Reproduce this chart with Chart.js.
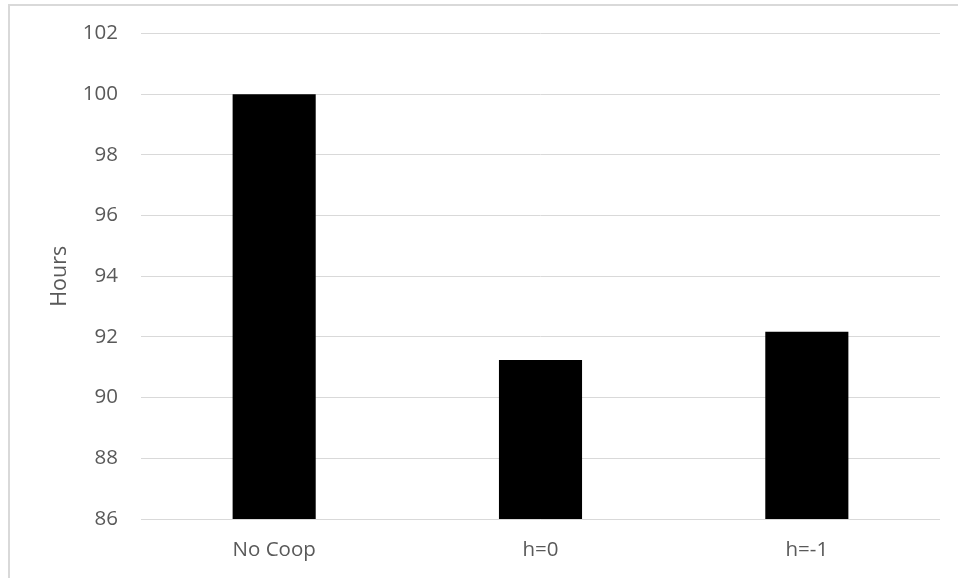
<!DOCTYPE html>
<html>
<head>
<meta charset="utf-8">
<script src="https://cdn.jsdelivr.net/npm/chart.js@4/dist/chart.umd.min.js"></script>
<style>
  body { margin: 0; background: #fff; }
  #wrap { position: relative; width: 958px; height: 578px; }
  #frame { position: absolute; left: 8px; top: 4px; right: -10px; bottom: -10px;
           border-left: 2px solid #d9d9d9; border-top: 2px solid #d9d9d9; }
  canvas { position: absolute; left: 0; top: 0; }
</style>
</head>
<body>
<div id="wrap">
  <div id="frame"></div>
  <canvas id="barChart" width="958" height="578"></canvas>
</div>
<script>
// data
var categories = ["No Coop", "h=0", "h=-1"];
var hours = [100, 91.24, 92.17];
var yTicks = [86, 88, 90, 92, 94, 96, 98, 100, 102];

var textColor = '#595959';
var gridColor = '#d9d9d9';

var ctx = document.getElementById("barChart").getContext('2d');
var myBarChart = new Chart(ctx, {
  type: 'bar',
  data: {
    labels: categories,
    datasets: [{
      label: "Hours",
      data: hours,
      backgroundColor: '#000000',
      borderWidth: 0,
      categoryPercentage: 1,
      barPercentage: 0.312
    }]
  },
  options: {
    responsive: false,
    animation: false,
    layout: { padding: { left: 0, top: 33.5, right: 18, bottom: 0 } },
    plugins: {
      legend: { display: false },
      tooltip: { enabled: false }
    },
    scales: {
      x: {
        grid: { display: false, drawTicks: false },
        border: { display: false },
        ticks: { color: textColor, font: { family: 'Open Sans', size: 20.5 }, padding: 19 },
        afterFit: function (scale) { scale.height = 578 - 519; }
      },
      y: {
        min: yTicks[0],
        max: yTicks[yTicks.length - 1],
        afterBuildTicks: function (scale) {
          scale.ticks = yTicks.map(function (v) { return { value: v }; });
        },
        grid: { color: gridColor, lineWidth: 1, drawTicks: false },
        border: { display: false },
        ticks: { color: textColor, font: { family: 'Open Sans', size: 20.5 }, padding: 23 },
        title: {
          display: true,
          text: 'Hours',
          color: textColor,
          font: { family: 'Open Sans', size: 21.5 },
          padding: { top: 47, bottom: 0 }
        },
        afterFit: function (scale) {
          scale.width = 141;
          scale.paddingTop = 12;
        }
      }
    }
  }
});
</script>
</body>
</html>
